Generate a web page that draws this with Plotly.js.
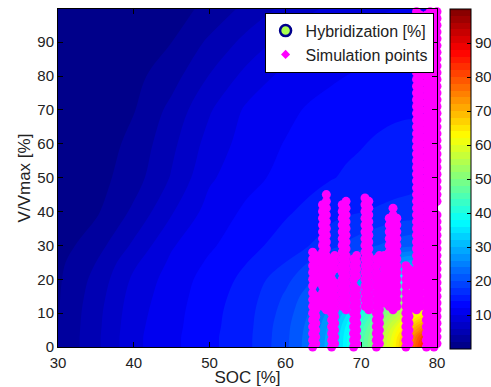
<!DOCTYPE html>
<html>
<head>
<meta charset="utf-8">
<script src="https://cdn.plot.ly/plotly-3.0.1.min.js"></script>
<style>
html,body{margin:0;padding:0;background:#fff;}
#chart{width:491px;height:387px;}
</style>
</head>
<body>
<div id="chart"></div>
<script>
// Hybridization field [%] (rows = V/Vmax, columns = SOC)
const socGrid = [30,35,40,45,50,55,60,63,66,68,70,72,74,76,77,78,79,80];
const vGrid = [0,3,6,10,15,20,25,30,40,50,60,70,80,90,100];
const hybridization = [
  [2.0,5.5,9.5,11.5,13.5,15.5,19.5,23.0,30.0,37.6,44.8,52.5,61.0,72.0,77.6,84.0,89.7,95.0],
  [2.0,5.5,9.5,11.5,13.5,15.5,19.4,22.9,29.7,37.3,44.4,51.9,60.1,70.3,75.3,80.6,84.6,86.4],
  [2.0,5.4,9.4,11.4,13.4,15.4,19.3,22.6,29.0,36.3,42.8,50.3,57.7,65.8,69.5,73.1,75.6,76.6],
  [1.9,5.3,9.2,11.3,13.3,15.3,18.9,22.0,27.2,33.5,39.6,46.1,52.7,58.0,60.1,62.2,63.7,64.2],
  [1.8,5.0,8.9,11.1,13.1,15.0,18.3,21.0,24.6,28.8,34.5,39.6,45.1,49.1,50.5,51.7,52.4,52.6],
  [1.7,4.6,8.4,10.9,12.8,14.6,17.4,19.5,22.3,25.0,28.2,32.6,36.9,39.4,40.4,41.3,41.8,42.1],
  [1.5,4.0,7.6,10.4,12.3,14.0,16.0,18.0,19.9,21.4,22.8,24.9,26.8,28.6,29.2,29.7,30.0,30.2],
  [1.1,3.1,6.4,9.8,11.7,13.3,14.9,15.9,17.4,18.3,19.1,19.9,20.7,21.3,21.5,21.7,21.8,21.8],
  [0.5,1.7,4.4,7.8,10.8,12.4,13.7,14.5,15.2,15.6,15.9,16.2,16.5,16.8,16.9,17.0,17.0,17.1],
  [0.4,1.2,3.1,6.2,9.7,11.4,12.6,13.3,13.9,14.2,14.5,14.8,15.0,15.1,15.2,15.2,15.2,15.2],
  [0.3,1.0,2.5,5.5,8.8,10.9,12.1,12.8,13.4,13.7,13.9,14.2,14.4,14.5,14.6,14.6,14.6,14.6],
  [0.3,0.7,1.9,4.6,7.8,10.4,11.5,12.2,12.7,13.0,13.3,13.5,13.7,13.8,13.8,13.9,13.9,13.9],
  [0.2,0.4,1.4,3.2,6.1,8.7,10.6,11.2,11.7,12.0,12.3,12.5,12.6,12.8,12.8,12.8,12.8,12.8],
  [0.1,0.3,0.8,2.0,4.4,6.7,8.8,9.9,10.6,10.9,11.1,11.3,11.4,11.5,11.6,11.6,11.6,11.6],
  [0.0,0.2,0.4,1.2,2.5,4.6,6.5,7.5,8.4,8.9,9.3,9.6,9.9,10.1,10.2,10.2,10.2,10.3]
];

// Simulation points, read column by column (SOC of the column, V/Vmax values)
const simColumnSOC = [63.6,64.0,64.9,65.4,66.1,66.5,67.5,68.0,69.0,69.4,70.5,71.0,72.0,72.4,73.05,73.7,74.2,74.7,75.9,76.3,76.8,77.3,77.8,78.6,79.1,79.6,80.0];
const simColumnV = [
  [0,2,4,6,8,10,12,14,16,18,20,22,24,26,28],
  [1,3,5,7,9,11,13,15,19,21,23,25,27],
  [12,14,16,18,20,22,24,26,28,30,32,34,36,38,40,42],
  [11,13,15,17,19,21,23,25,27,29,31,33,35,37,39,41,43,45],
  [0,2,4,6,8,10,12,14,16,18,20,22,24,26],
  [1,3,5,7,9,11,13,15,17,19,23,25,27],
  [12,14,16,18,20,22,24,26,28,30,32,34,36,38,40,42],
  [11,13,15,17,19,21,23,25,27,29,31,33,35,37,39,41,43],
  [0,2,4,6,8,10,12,14,16,18,20,22,24,26],
  [1,3,5,7,9,11,13,15,17,21,23,25,27],
  [12,14,16,18,20,22,24,26,28,30,32,34,36,38,40,42,44],
  [11,13,15,17,19,21,23,25,27,29,31,33,35,37,39,41,43],
  [0,2,4,6,8,10,12,14,16,18,20,22,24,26],
  [1,3,5,7,9,11,13,15,17,19,21,25,27],
  [13,15,17,19,21,23,25,27],
  [12,14,16,18,20,22,24,26,28,30,32,34,36,38],
  [11,13,15,17,19,21,23,25,27,29,31,33,35,37,39,41],
  [12,14,16,18,20,22,24,26,28,30,32,34,36,38],
  [0,2,4,6,8,10,12,14,16,18,20,22,24],
  [1,3,5,7,9,11,13,15,19,21,23],
  [12,14,16,18,20,22],
  [11,13,15,17,19,21,23,25,27,29,31,33,35,37,39,41,43,45,47,49,51,53,55,57,59,61,63,65,67,69,71,73,75,77,79,81,83,85,87,89,91,93,95,97,99],
  [12,14,16,18,20,22,24,26,28,30,32,34,36,38,40,42,44,46,48,50,52,54,56,58,60,62,64,66,68,70,72,74,76,78,80,82,84,86,88,90,92,94,96,98],
  [0,2,4,6,8,10,12,14,16,18,20,22,24,26,28,30,32,34,36,38,40,42,44,46,48,50,52,54,56,58,60,62,64,66,68,70,72,74,76,78,80,82,84,86,88,90,92,94,96,98],
  [1,3,5,7,9,11,13,15,17,19,21,23,25,27,29,31,33,35,37,39,41,43,45,47,49,51,53,55,57,59,61,63,65,67,69,71,73,75,77,79,81,83,85,87,89,91,93,95,97,99],
  [0,2,4,6,8,10,12,14,16,18,20,22,24,26,28,30,32,34,36,38,40,42,44,46,48,50,52,54,56,58,60,62,64,66,68,70,72,74,76,78,80,82,84,86,88,90,92,94,96,98],
  [1,3,5,7,9,11,13,15,17,19,21,23,25,27,29,31,33,35,37,39,43,45,47,49,51,53,55,57,59,61,63,65,67,69,71,73,75,77,79,81,83,85,87,89,91,93,95,97,99]
];

const xTicks = [30,40,50,60,70,80];
const yTicks = [0,10,20,30,40,50,60,70,80,90];
const cbTicks = [10,20,30,40,50,60,70,80,90];

const simSOC = [], simV = [];
simColumnSOC.forEach((s, i) => simColumnV[i].forEach(v => { simSOC.push(s); simV.push(v); }));

const jet = [[0,'rgb(0,0,128)'],[0.125,'rgb(0,0,255)'],[0.375,'rgb(0,255,255)'],
             [0.625,'rgb(255,255,0)'],[0.875,'rgb(255,0,0)'],[1,'rgb(128,0,0)']];
const FONT = 'Liberation Sans, Arial, Helvetica, sans-serif';
const txt = '#222';
const MAGENTA = 'rgb(255,0,255)';

const traces = [
  {
    type: 'contour', x: socGrid, y: vGrid, z: hybridization,
    colorscale: jet, zmin: 0, zmax: 100, zauto: false,
    contours: {start: 0, end: 100, size: 2, coloring: 'fill', showlines: false},
    line: {width: 0},
    showlegend: false, hoverinfo: 'skip',
    colorbar: {
      x: 1.0343, xanchor: 'left', xpad: 0, thickness: 21,
      y: 0.4964, yanchor: 'middle', ypad: 0, lenmode: 'pixels', len: 340,
      outlinecolor: '#000', outlinewidth: 1,
      tickmode: 'array', tickvals: cbTicks, ticks: 'inside', ticklen: 4, tickcolor: '#000',
      tickfont: {family: FONT, size: 15, color: txt}
    }
  },
  {
    type: 'scatter', x: [null], y: [null], mode: 'markers', name: 'Hybridization [%]',
    marker: {symbol: 'circle', size: 11, color: 'rgb(170,255,80)', line: {color: 'rgb(0,0,140)', width: 2.5}}
  },
  {
    type: 'scatter', x: [null], y: [null], mode: 'markers', name: 'Simulation points',
    marker: {symbol: 'diamond', size: 7, color: MAGENTA, line: {width: 0}}
  },
  {
    type: 'scatter', x: simSOC, y: simV, mode: 'markers', name: 'Simulation points',
    showlegend: false, cliponaxis: false,
    marker: {symbol: 'circle', size: 9, color: MAGENTA, line: {width: 0}}
  }
];

const layout = {
  width: 491, height: 387,
  margin: {l: 58, r: 54, t: 9, b: 40, autoexpand: false},
  paper_bgcolor: '#fff', plot_bgcolor: '#fff',
  font: {family: FONT, color: txt},
  showlegend: true,
  legend: {
    x: 0.991, y: 0.989, xanchor: 'right', yanchor: 'top',
    bgcolor: '#fff', bordercolor: '#000', borderwidth: 1,
    font: {family: FONT, size: 16, color: txt}, tracegroupgap: 0
  },
  xaxis: {
    range: [30, 80], tickmode: 'array', tickvals: xTicks,
    ticks: 'inside', ticklen: 5, tickcolor: '#000',
    showline: true, linecolor: '#000', linewidth: 1, mirror: 'ticks',
    showgrid: false, zeroline: false, ticklabelstandoff: 2,
    tickfont: {family: FONT, size: 15, color: txt},
    title: {text: 'SOC [%]', font: {family: FONT, size: 17, color: txt}, standoff: 0}
  },
  yaxis: {
    range: [0, 99.8], tickmode: 'array', tickvals: yTicks,
    ticks: 'inside', ticklen: 5, tickcolor: '#000',
    showline: true, linecolor: '#000', linewidth: 1, mirror: 'ticks',
    showgrid: false, zeroline: false,
    tickfont: {family: FONT, size: 15, color: txt},
    title: {text: 'V/Vmax [%]', font: {family: FONT, size: 17, color: txt}, standoff: 2}
  }
};

Plotly.newPlot('chart', traces, layout, {displayModeBar: false, staticPlot: true});
</script>
</body>
</html>
